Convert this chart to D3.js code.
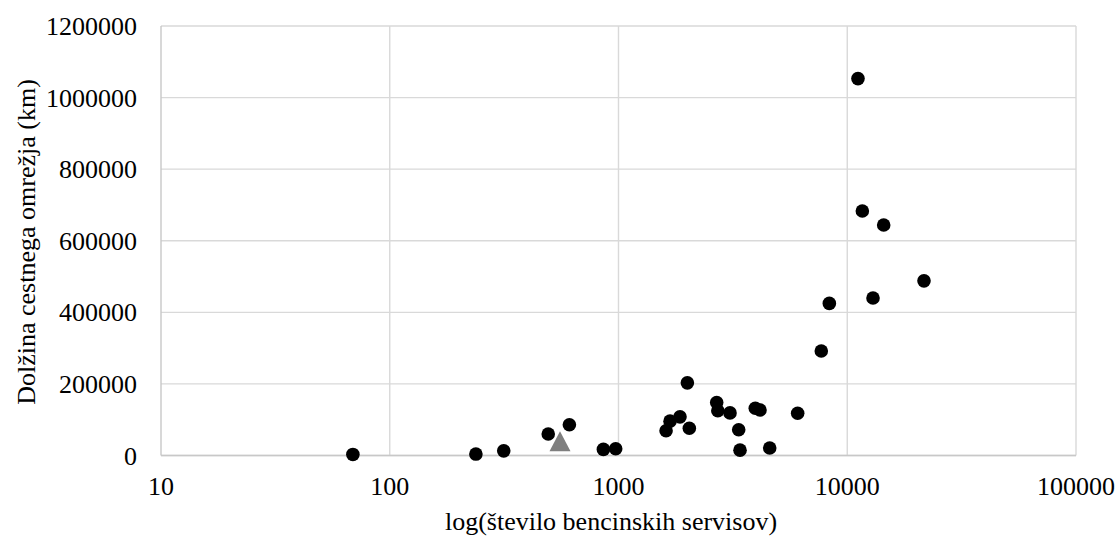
<!DOCTYPE html>
<html>
<head>
<meta charset="utf-8">
<script src="https://cdn.jsdelivr.net/npm/d3@7"></script>
<style>
  body { margin: 0; background: #fff; }
  text { font-family: "Times New Roman", "Liberation Serif", serif; fill: #000; }
</style>
</head>
<body>
<div id="chart-area"></div>
<script>
// data
let stations = [69, 238, 315, 493, 610, 859, 972, 1614, 1680, 1857, 2000, 2040,
                2687, 2718, 3072, 3353, 3398, 3963, 4155, 4582, 6070, 7700, 8350,
                11140, 11640, 12960, 14430, 21650];
let roadKm = [3000, 4000, 13000, 60000, 86000, 17000, 19000, 69000, 96000, 108000, 203000, 76000,
              148000, 125000, 119000, 72000, 15000, 132000, 127000, 21000, 118000, 292000, 425000,
              1053000, 683000, 440000, 644000, 488000];
// highlighted country (triangle)
let markStations = [555];
let markKm = [40000];

let xTicks = [10, 100, 1000, 10000, 100000];
let yTicks = [0, 200000, 400000, 600000, 800000, 1000000, 1200000];

let width = 1117,
    height = 538;
let margin = {left: 161, right: 41, top: 26, bottom: 82.5};

let svg = d3.select("#chart-area").append("svg")
    .attr("width", width)
    .attr("height", height);

let x = d3.scaleLog()
    .domain([10, 100000])
    .range([margin.left, width - margin.right]);

let y = d3.scaleLinear()
    .domain([0, 1200000])
    .range([height - margin.bottom, margin.top]);

// gridlines
svg.selectAll(".hgrid")
  .data(yTicks)
  .enter().append("line")
  .attr("x1", x(10)).attr("x2", x(100000))
  .attr("y1", d => y(d)).attr("y2", d => y(d))
  .style("stroke", "#d9d9d9")
  .style("stroke-width", 1.4);

svg.selectAll(".vgrid")
  .data(xTicks)
  .enter().append("line")
  .attr("x1", d => x(d)).attr("x2", d => x(d))
  .attr("y1", y(0)).attr("y2", y(1200000))
  .style("stroke", d => d == 10 ? "#c8c8c8" : "#d9d9d9")
  .style("stroke-width", 1.4);

// bottom axis line
svg.append("line")
  .attr("x1", x(10)).attr("x2", x(100000))
  .attr("y1", y(0)).attr("y2", y(0))
  .style("stroke", "#c8c8c8")
  .style("stroke-width", 1.4);

// tick labels
svg.selectAll(".ylab")
  .data(yTicks)
  .enter().append("text")
  .attr("x", 137)
  .attr("y", d => y(d))
  .attr("dy", "0.35em")
  .attr("text-anchor", "end")
  .style("font-size", "26px")
  .text(d => d3.format("d")(d));

svg.selectAll(".xlab")
  .data(xTicks)
  .enter().append("text")
  .attr("x", d => x(d))
  .attr("y", 495)
  .attr("text-anchor", "middle")
  .style("font-size", "26px")
  .text(d => d3.format("d")(d));

// axis titles
svg.append("text")
  .attr("x", 611)
  .attr("y", 530)
  .attr("text-anchor", "middle")
  .style("font-size", "26px")
  .text("log(število bencinskih servisov)");

svg.append("text")
  .attr("transform", "translate(35,242) rotate(-90)")
  .attr("text-anchor", "middle")
  .style("font-size", "26px")
  .text("Dolžina cestnega omrežja (km)");

// points
svg.selectAll(".dot")
  .data(d3.zip(stations, roadKm))
  .enter().append("circle")
  .attr("cx", d => x(d[0]))
  .attr("cy", d => y(d[1]))
  .attr("r", 6.8)
  .attr("fill", "#000");

svg.selectAll(".tri")
  .data(d3.zip(markStations, markKm))
  .enter().append("path")
  .attr("d", function(d) {
    let cx = x(d[0]), cy = y(d[1]);
    return "M" + cx + "," + (cy - 10) + "L" + (cx + 10.5) + "," + (cy + 10) + "L" + (cx - 10.5) + "," + (cy + 10) + "Z";
  })
  .attr("fill", "#7f7f7f");
</script>
</body>
</html>
